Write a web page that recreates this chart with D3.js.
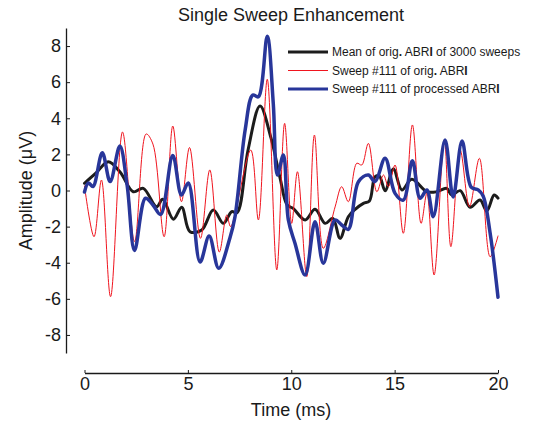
<!DOCTYPE html>
<html>
<head>
<meta charset="utf-8">
<script src="https://cdn.jsdelivr.net/npm/d3@7"></script>
<style>
  body { margin: 0; background: #fff; }
  text { font-family: "Liberation Sans", Arial, sans-serif; fill: #1a1a1a; }
</style>
</head>
<body>
<div id="chart"></div>
<script>

// time (ms) / amplitude (uV) samples
const meanTime = [0, 0.56, 1.15, 1.72, 2.36, 2.84, 3.49, 3.78, 4.30, 4.70, 5.10, 5.67, 6.23, 6.72, 7.12, 7.38, 7.91, 8.49, 9.02, 9.46, 9.80, 10.09, 10.67, 11.15, 11.64, 12.01, 12.36, 12.76, 13.09, 13.49, 13.78, 14.05, 14.26, 14.54, 14.94, 15.35, 15.83, 16.56, 17.04, 17.52, 17.76, 18.17, 18.65, 19.13, 19.46, 19.81, 20];
const meanAmp  = [0.40, 0.97, 1.59, 1.02, -0.07, 0.12, -0.90, -0.49, -1.59, -0.93, -2.28, -2.19, -1.08, -1.82, -1.17, -1.23, 2.24, 4.68, 2.91, 0.69, -0.80, -0.99, -1.63, -1.04, -1.82, -1.54, -2.65, -1.45, -1.04, -0.71, -0.58, 0.76, 0.80, -0.01, 1.19, 0.03, 0.62, -0.07, -0.07, 0.12, -0.25, -0.01, -0.93, -0.53, -1.14, -0.25, -0.42];

const origTime = [0, 0.46, 0.82, 1.26, 1.84, 2.42, 2.98, 3.31, 3.85, 4.27, 4.69, 5.08, 5.61, 6.06, 6.52, 6.88, 7.07, 8.04, 8.41, 8.84, 9.30, 9.68, 10.02, 10.30, 10.75, 11.12, 11.55, 12.12, 12.44, 12.76, 13.17, 13.41, 13.73, 14.14, 14.46, 14.70, 15.02, 15.42, 15.86, 16.28, 16.56, 16.91, 17.40, 17.72, 18.17, 18.62, 19.10, 19.62, 20];
const origAmp  = [0.25, -2.56, 0.58, -5.88, 3.24, -2.83, 3.13, 2.57, -2.56, 3.57, -0.62, 2.38, -2.65, 1.14, -3.41, -1.36, -2.00, 2.24, -1.63, 6.16, -4.40, 3.72, -1.82, 1.04, -4.77, 3.07, -3.20, -0.91, 0.21, -0.62, 1.51, 1.41, 2.61, -0.07, 0.86, 0.21, 1.41, -2.37, 3.63, -1.82, -0.16, -4.68, 2.80, -3.11, 2.24, -0.90, 1.78, -3.67, -2.52];

const procTime = [0, 0.19, 0.41, 0.86, 1.24, 1.71, 2.06, 2.42, 2.95, 3.31, 3.68, 4.27, 4.69, 5.02, 5.59, 6.03, 6.49, 7.04, 7.28, 7.77, 8.14, 8.41, 8.84, 9.13, 9.33, 9.62, 9.86, 10.18, 10.67, 11.15, 11.55, 12.12, 12.44, 12.76, 13.25, 13.73, 14.05, 14.54, 15.02, 15.42, 15.86, 16.23, 16.56, 16.87, 17.44, 17.83, 18.26, 18.70, 19.04, 19.28, 19.62, 20];
const procAmp  = [-0.08, 0.42, 0.22, 2.09, 0.50, 2.46, 0.30, -3.32, -0.43, -0.80, -1.33, 1.94, -0.25, 0.42, -3.96, -2.52, -4.31, -2.60, -1.45, 3.35, 5.29, 5.19, 8.55, 4.83, 0.86, 1.97, -1.63, -2.92, -4.68, -1.73, -4.03, -1.63, -1.91, -2.15, 0.49, 0.86, 0.49, 1.78, -0.16, -0.53, 1.65, -0.43, 0.03, -1.45, 2.80, -0.36, 2.74, 0.19, 0.03, -0.30, -2.37, -5.91];

const seriesNames  = ["Mean of orig. ABRI of 3000 sweeps", "Sweep #111 of orig. ABRI", "Sweep #111 of processed ABRI"];
const seriesColors = ["#1c1c1c", "#f0141e", "#28369a"];
const seriesWidths = [3, 1, 3.5];
const xTicks = [0, 5, 10, 15, 20];
const yTicks = [-8, -6, -4, -2, 0, 2, 4, 6, 8];

const series = [
    {time: meanTime, amp: meanAmp},
    {time: origTime, amp: origAmp},
    {time: procTime, amp: procAmp}
].map((s, i) => ({
    name: seriesNames[i],
    color: seriesColors[i],
    width: seriesWidths[i],
    values: s.time.map((t, j) => ({t: t, v: s.amp[j]}))
}));

const width = 539, height = 421;

const svg = d3.select("#chart").append("svg")
    .attr("width", width)
    .attr("height", height);

// scales
const x = d3.scaleLinear().domain([0, 20]).range([84.5, 498]);
const y = d3.scaleLinear().domain([-9, 9]).range([353, 28]);

// axes (MATLAB style, ticks pointing inward, x axis detached)
// plain hyphen for negatives like the original
const yAxis = d3.axisLeft(y).tickValues(yTicks).tickFormat(d => String(d))
    .tickSizeInner(-4).tickSizeOuter(0).tickPadding(5);
const xAxis = d3.axisBottom(x).tickValues(xTicks).tickFormat(d => String(d))
    .tickSizeInner(-3).tickSizeOuter(0).tickPadding(4);

const gy = svg.append("g")
    .attr("transform", "translate(66,0)")
    .call(yAxis);

const gx = svg.append("g")
    .attr("transform", "translate(0,373)")
    .call(xAxis);

[gx, gy].forEach(g => {
    g.select(".domain").attr("stroke", "#1a1a1a").attr("stroke-width", 1.3);
    g.selectAll(".tick line").attr("stroke", "#1a1a1a").attr("stroke-width", 1);
    g.selectAll(".tick text")
        .attr("font-family", "Liberation Sans, Arial, sans-serif")
        .attr("font-size", 18)
        .attr("fill", "#1a1a1a");
});

// lines
const line = d3.line()
    .x(d => x(d.t))
    .y(d => y(d.v))
    .curve(d3.curveCatmullRom.alpha(0.5));

svg.append("g").selectAll("path")
    .data(series)
    .join("path")
    .attr("d", d => line(d.values))
    .attr("fill", "none")
    .attr("stroke", d => d.color)
    .attr("stroke-width", d => d.width)
    .attr("stroke-linejoin", "round")
    .attr("stroke-linecap", "round");

// title and axis labels
svg.append("text")
    .attr("x", 291)
    .attr("y", 21)
    .attr("text-anchor", "middle")
    .attr("font-size", 18)
    .text("Single Sweep Enhancement");

svg.append("text")
    .attr("x", 291)
    .attr("y", 416)
    .attr("text-anchor", "middle")
    .attr("font-size", 18)
    .text("Time (ms)");

svg.append("text")
    .attr("transform", "translate(32,190.5) rotate(-90)")
    .attr("text-anchor", "middle")
    .attr("font-size", 18)
    .text("Amplitude (\u03bcV)");

// legend
const legend = svg.append("g")
    .selectAll("g")
    .data(series)
    .join("g")
    .attr("transform", (d, i) => `translate(288, ${52 + i * 18.5})`);

legend.append("line")
    .attr("x1", 0).attr("x2", 40)
    .attr("stroke", d => d.color)
    .attr("stroke-width", d => Math.min(d.width, 2.8));

legend.append("text")
    .attr("x", 44)
    .attr("dy", "0.35em")
    .attr("font-size", 12)
    .each(function(d) {
        // the original renders the "." and the final "I" heavier
        const parts = d.name.split(/(\.|ABRI)/).filter(p => p.length);
        const t = d3.select(this);
        parts.forEach(p => {
            if (p === "ABRI") {
                t.append("tspan").text("ABR");
                t.append("tspan").attr("font-weight", "bold").text("I");
            } else if (p === ".") {
                t.append("tspan").attr("font-weight", "bold").text(".");
            } else {
                t.append("tspan").text(p);
            }
        });
    });

</script>
</body>
</html>
